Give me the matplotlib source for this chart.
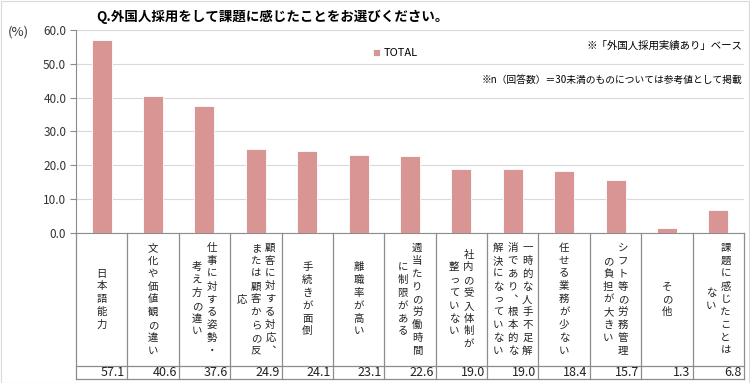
import matplotlib
matplotlib.use("Agg")
import matplotlib.pyplot as plt
from matplotlib.patches import Rectangle

plt.rcParams['font.family'] = ['Noto Sans CJK JP', 'DejaVu Sans']

# label columns, right to left as read in vertical writing
label_columns = [
    ["日本語能力"],
    ["文化や価値観の違い"],
    ["仕事に対する姿勢・", "考え方の違い"],
    ["顧客に対する対応︑", "または顧客からの反", "応"],
    ["手続きが面倒"],
    ["離職率が高い"],
    ["週当たりの労働時間", "に制限がある"],
    ["社内の受入体制が", "整っていない"],
    ["一時的な人手不足解", "消であり︑根本的な", "解決になっていない"],
    ["任せる業務が少ない"],
    ["シフト等の労務管理", "の負担が大きい"],
    ["その他"],
    ["課題に感じたことは", "ない"],
]
values = [57.1, 40.6, 37.6, 24.9, 24.1, 23.1, 22.6, 19.0, 19.0, 18.4, 15.7, 1.3, 6.8]
yticks = [0, 10, 20, 30, 40, 50, 60]

W, H = 750, 383
bar_color = "#d99594"
line_gray = "#8c8c8c"

fig = plt.figure(figsize=(W / 100, H / 100), dpi=100)

x0, x1 = 76, 744
y_top, y_zero = 30, 232.7
ax = fig.add_axes([x0 / W, 1 - y_zero / H, (x1 - x0) / W, (y_zero - y_top) / H])

n = len(values)
xs = list(range(n))
ax.bar(xs, values, width=0.39, color=bar_color, edgecolor="white", linewidth=0.6,
       zorder=3, label="TOTAL")
ax.set_xlim(-0.5, n - 0.5)
ax.set_ylim(0, 60)
ax.set_yticks(yticks)
ax.set_yticklabels([f"{v:.1f}" for v in yticks], fontsize=8.5, color="#333333")
ax.set_xticks([])
ax.yaxis.grid(True, color="#d9d9d9", linewidth=0.8, zorder=0)
for side in ["top", "right"]:
    ax.spines[side].set_visible(False)
ax.spines["left"].set_color(line_gray)
ax.spines["bottom"].set_color(line_gray)
ax.tick_params(axis="y", length=4, color=line_gray, pad=3)

leg = ax.legend(loc="upper left", bbox_to_anchor=(0.43, 0.96), frameon=False,
                fontsize=8, handlelength=0.6, handleheight=0.6, handletextpad=0.3)

# table below the plot
t_bottom, t_sep = 379, 366
tab = fig.add_axes([x0 / W, 1 - t_bottom / H, (x1 - x0) / W, (t_bottom - y_zero) / H])
tab.set_xlim(-0.5, n - 0.5)
tab.set_ylim(0, t_bottom - y_zero)
tab.axis("off")
th = t_bottom - y_zero
row = t_bottom - t_sep
for i in range(n + 1):
    tab.plot([i - 0.5, i - 0.5], [0, th], color=line_gray, linewidth=0.9, clip_on=False)
tab.plot([-0.5, n - 0.5], [row, row], color=line_gray, linewidth=0.9, clip_on=False)
tab.plot([-0.5, n - 0.5], [0, 0], color=line_gray, linewidth=0.9, clip_on=False)

col_step = 14.5 / ((x1 - x0) / n)
label_mid = row + (th - row) / 2
for i, cols in enumerate(label_columns):
    k = len(cols)
    for j, col in enumerate(cols):
        xc = i + ((k - 1) / 2 - j) * col_step
        tab.text(xc, label_mid, "\n".join(col), ha="center", va="center",
                 fontsize=7.5, linespacing=1.35, color="#222222")
    tab.text(i + 0.46, row / 2, f"{values[i]:.1f}", ha="right", va="center",
             fontsize=9, color="#222222")

fig.text(96 / W, 1 - 17 / H, "Q.外国人採用をして課題に感じたことをお選びください。",
         fontsize=9.7, fontweight="bold", ha="left", va="center")
fig.text(8 / W, 1 - 32 / H, "(%)", fontsize=9.5, ha="left", va="center", color="#333333")
fig.text(742 / W, 1 - 46 / H, "※「外国人採用実績あり」ベース", fontsize=7.5,
         ha="right", va="center")
fig.text(742 / W, 1 - 80 / H, "※n（回答数）＝30未満のものについては参考値として掲載",
         fontsize=7, ha="right", va="center")

fig.patches.append(Rectangle((0.5 / W, 0.5 / H), 1 - 1.5 / W, 1 - 1.5 / H,
                             transform=fig.transFigure, fill=False,
                             edgecolor="#d9d9d9", linewidth=0.8))

fig.savefig("out.png", dpi=100)
